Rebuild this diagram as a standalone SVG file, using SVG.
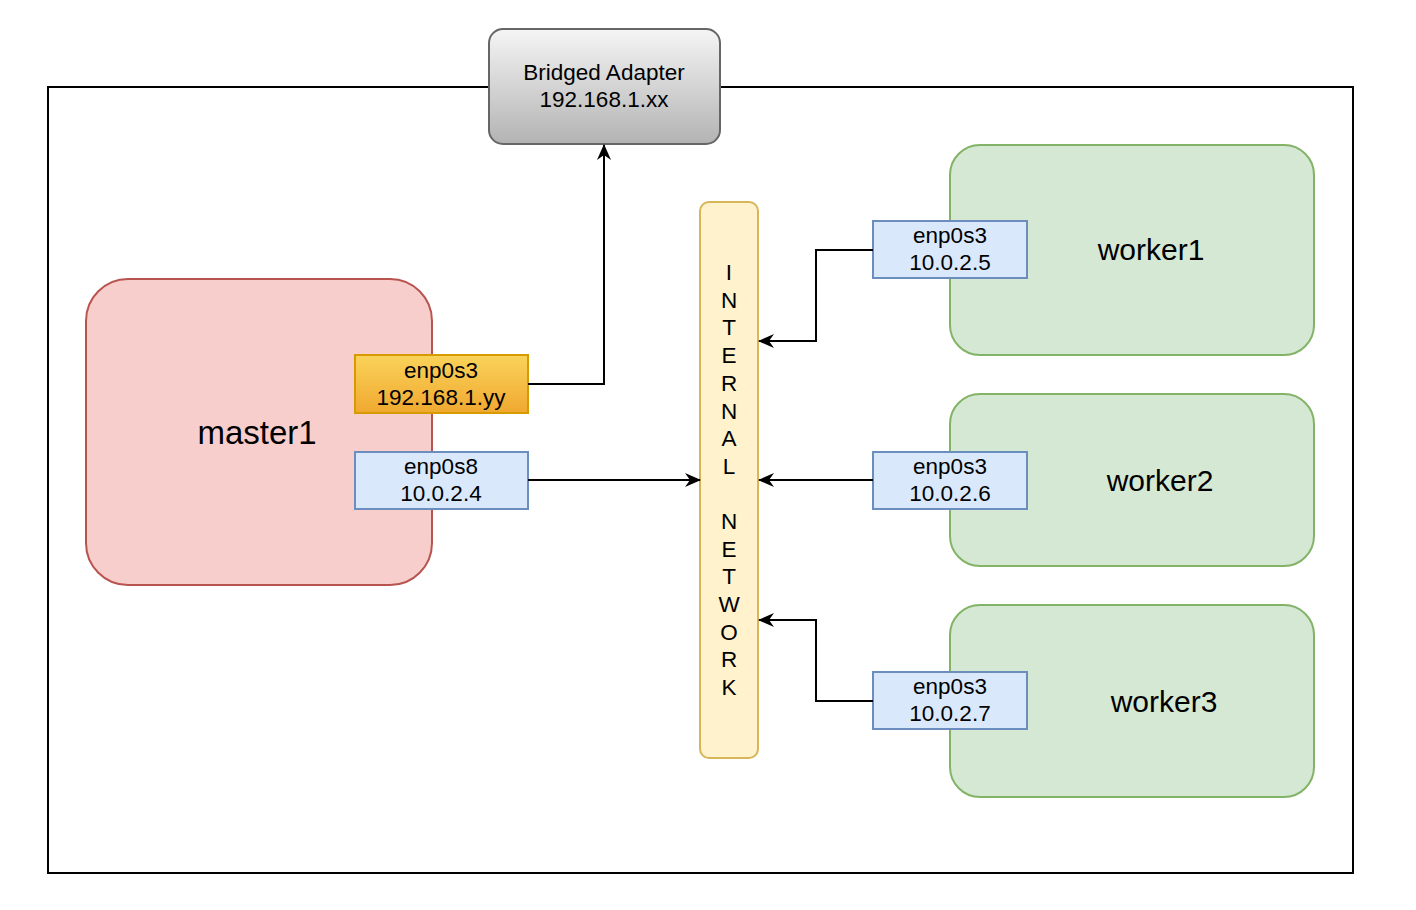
<svg xmlns="http://www.w3.org/2000/svg" width="1416" height="910" viewBox="0 0 1416 910">
<defs>
<linearGradient id="gGray" x1="0" y1="0" x2="0" y2="1"><stop offset="0" stop-color="#f5f5f5"/><stop offset="1" stop-color="#b3b3b3"/></linearGradient>
<linearGradient id="gOrange" x1="0" y1="0" x2="0" y2="1"><stop offset="0" stop-color="#fad35a"/><stop offset="1" stop-color="#f0a830"/></linearGradient>
<marker id="arr" viewBox="0 0 16 14" refX="15" refY="7" markerWidth="16" markerHeight="14" markerUnits="userSpaceOnUse" orient="auto">
<path d="M0,0 L16,7 L0,14 L5,7 Z" fill="#000"/>
</marker>
<style>
text{font-family:"Liberation Sans",Arial,sans-serif;fill:#000;text-anchor:middle}
.s{font-size:22.5px}
.big{font-size:33px}
.w{font-size:30px}
.blue{fill:#dae8fc;stroke:#6c8ebf;stroke-width:2}
.green{fill:#d5e8d4;stroke:#82b366;stroke-width:2}
.conn{fill:none;stroke:#000;stroke-width:2;marker-end:url(#arr)}
</style>
</defs>
<rect width="1416" height="910" fill="#fff"/>
<g id="frame"><rect x="48" y="87" width="1305" height="786" fill="none" stroke="#000" stroke-width="2"/></g>
<g id="bridged">
<rect x="489" y="29" width="231" height="115" rx="14" fill="url(#gGray)" stroke="#666" stroke-width="2"/>
<text class="s" x="604" y="80">Bridged Adapter</text>
<text class="s" x="604" y="107">192.168.1.xx</text>
</g>
<g id="master1">
<rect x="86" y="279" width="346" height="306" rx="42" fill="#f8cecc" stroke="#b85450" stroke-width="2"/>
<text class="big" x="257" y="444">master1</text>
</g>
<g id="m-enp0s3">
<rect x="355" y="355" width="173" height="58" fill="url(#gOrange)" stroke="#d79b00" stroke-width="2"/>
<text class="s" x="441" y="378">enp0s3</text>
<text class="s" x="441" y="405">192.168.1.yy</text>
</g>
<g id="m-enp0s8">
<rect class="blue" x="355" y="452" width="173" height="57"/>
<text class="s" x="441" y="474">enp0s8</text>
<text class="s" x="441" y="501">10.0.2.4</text>
</g>
<g id="internal">
<rect x="700" y="202" width="58" height="556" rx="9" fill="#fff2cc" stroke="#d6b656" stroke-width="2"/>
<text class="s" x="729" y="280">I</text>
<text class="s" x="729" y="308">N</text>
<text class="s" x="729" y="335">T</text>
<text class="s" x="729" y="363">E</text>
<text class="s" x="729" y="391">R</text>
<text class="s" x="729" y="419">N</text>
<text class="s" x="729" y="446">A</text>
<text class="s" x="729" y="474">L</text>
<text class="s" x="729" y="529">N</text>
<text class="s" x="729" y="557">E</text>
<text class="s" x="729" y="584">T</text>
<text class="s" x="729" y="612">W</text>
<text class="s" x="729" y="640">O</text>
<text class="s" x="729" y="667">R</text>
<text class="s" x="729" y="695">K</text>
</g>
<g id="worker1">
<rect class="green" x="950" y="145" width="364" height="210" rx="30"/>
<text class="w" x="1151" y="260">worker1</text>
</g>
<g id="worker2">
<rect class="green" x="950" y="394" width="364" height="172" rx="30"/>
<text class="w" x="1160" y="491">worker2</text>
</g>
<g id="worker3">
<rect class="green" x="950" y="605" width="364" height="192" rx="30"/>
<text class="w" x="1164" y="712">worker3</text>
</g>
<g id="w1-enp0s3">
<rect class="blue" x="873" y="221" width="154" height="57"/>
<text class="s" x="950" y="243">enp0s3</text>
<text class="s" x="950" y="270">10.0.2.5</text>
</g>
<g id="w2-enp0s3">
<rect class="blue" x="873" y="452" width="154" height="57"/>
<text class="s" x="950" y="474">enp0s3</text>
<text class="s" x="950" y="501">10.0.2.6</text>
</g>
<g id="w3-enp0s3">
<rect class="blue" x="873" y="672" width="154" height="57"/>
<text class="s" x="950" y="694">enp0s3</text>
<text class="s" x="950" y="721">10.0.2.7</text>
</g>
<g id="connectors">
<path class="conn" d="M528,384 H604 V145"/>
<path class="conn" d="M528,480 H700"/>
<path class="conn" d="M873,250 H816 V341 H759"/>
<path class="conn" d="M873,480 H759"/>
<path class="conn" d="M873,701 H816 V620 H759"/>
</g>
</svg>
